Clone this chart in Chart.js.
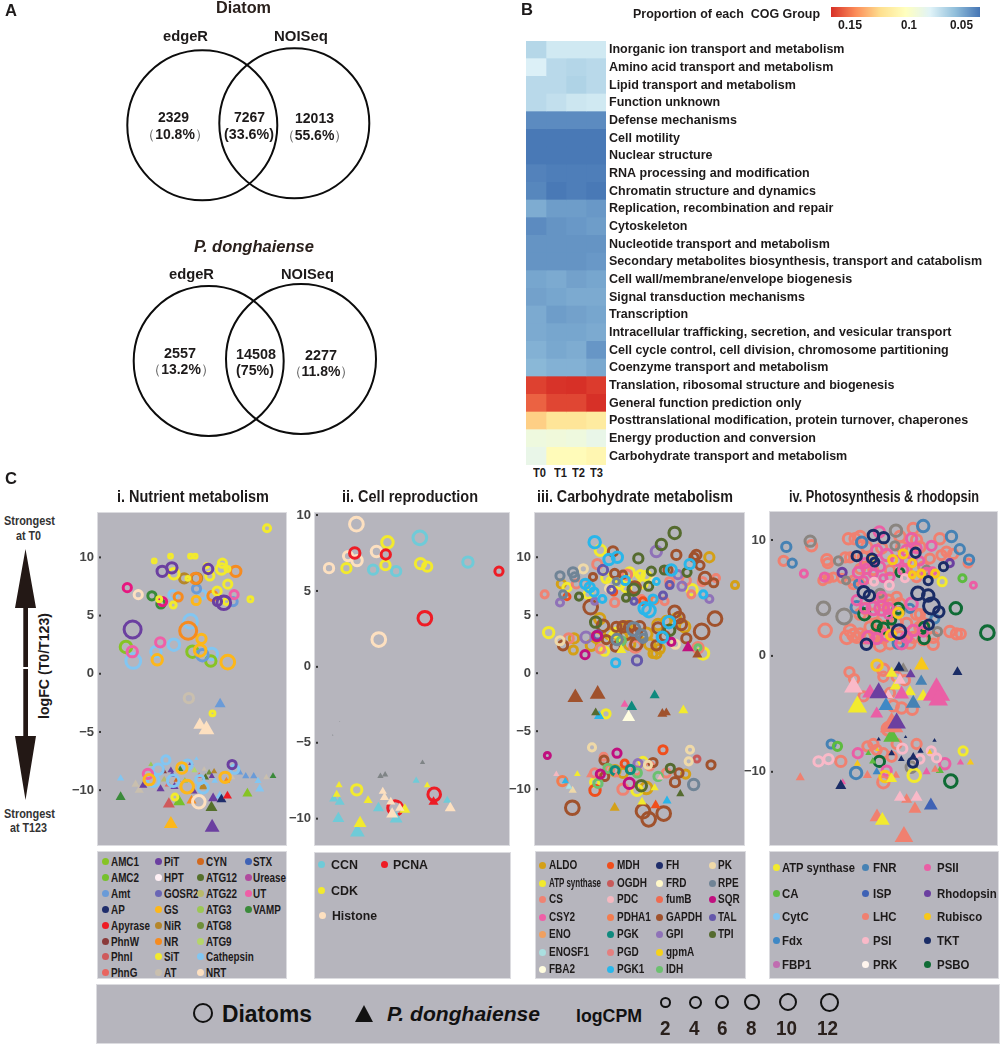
<!DOCTYPE html>
<html><head><meta charset="utf-8">
<script src="https://cdn.jsdelivr.net/npm/chart.js@4/dist/chart.umd.min.js"></script>
<style>
html,body{margin:0;padding:0;background:#fff;width:1000px;height:1045px;overflow:hidden}
body{position:relative;font-family:"Liberation Sans",Arial,sans-serif}
canvas{position:absolute;display:block}
.t{position:absolute;white-space:pre;font-weight:bold;line-height:1;transform-origin:0 50%;color:#1d1a1a}
.t span{font-weight:normal;color:#666}
.box{position:absolute;background:#b6b5bd;border:1px solid #dcdce0;box-sizing:border-box}
.dot{position:absolute;width:7px;height:7px;border-radius:50%}
</style></head><body>
<script>
// ---------- B: heat map values (proportion of each COG group) ----------
const cogGroups=["Inorganic ion transport and metabolism","Amino acid transport and metabolism","Lipid transport and metabolism","Function unknown","Defense mechanisms","Cell motility","Nuclear structure","RNA processing and modification","Chromatin structure and dynamics","Replication, recombination and repair","Cytoskeleton","Nucleotide transport and metabolism","Secondary metabolites biosynthesis, transport and catabolism","Cell wall/membrane/envelope biogenesis","Signal transduction mechanisms","Transcription","Intracellular trafficking, secretion, and vesicular transport","Cell cycle control, cell division, chromosome partitioning","Coenzyme transport and metabolism","Translation, ribosomal structure and biogenesis","General function prediction only","Posttranslational modification, protein turnover, chaperones","Energy production and conversion","Carbohydrate transport and metabolism"];
const timePoints=["T0","T1","T2","T3"];
const T0=[.0653,.0762,.0663,.0663,.0397,.0343,.0343,.0370,.0383,.0496,.0397,.0423,.0423,.0476,.0463,.0490,.0490,.0510,.0530,.1620,.1540,.1261,.0875,.0835];
const T1=[.0729,.0663,.0663,.0689,.0397,.0343,.0343,.0357,.0343,.0450,.0423,.0423,.0423,.0490,.0476,.0450,.0476,.0483,.0510,.1653,.1607,.1181,.0889,.1022];
const T2=[.0729,.0649,.0636,.0716,.0397,.0343,.0343,.0357,.0357,.0450,.0436,.0423,.0423,.0463,.0490,.0463,.0476,.0496,.0510,.1660,.1607,.1181,.0875,.1022];
const T3=[.0729,.0663,.0663,.0729,.0397,.0343,.0343,.0357,.0343,.0436,.0450,.0423,.0436,.0476,.0490,.0476,.0490,.0430,.0483,.1633,.1660,.1141,.0835,.1062];

// ---------- A: Venn counts ----------
const diatomCounts=["2329","7267","12013"], diatomShares=["10.8%","33.6%","55.6%"];
const dinoCounts=["2557","14508","2277"], dinoShares=["13.2%","75%","11.8%"];

// ---------- C: points are [jitter position, logFC, logCPM] ----------
// panel i: nutrient metabolism, circles = diatoms, _t = P. donghaiense triangles
const i_SiT=[[802,12.5,1],[463,9.7,-2],[512,10.1,-2],[572,10.1,-2],[586,10.1,-2],[668,9.5,2],[665,9.0,4],[522,8.6,4],[630,8.4,2],[683,9.0,-1],[684,7.7,2],[652,7.1,2],[620,9.3,-2],[564,8.2,-2],[478,6.4,-1],[520,5.9,0],[752,6.4,-1],[680,6.2,0],[638,-3.4,-1],[525,-10.6,0]];
const i_PiT=[[487,8.8,4],[516,9.1,4],[625,9.0,3],[653,6.2,2],[672,6.1,7],[398,3.8,10],[697,-7.8,2]];
const i_NiR=[[553,8.2,3],[590,8.2,4]];
const i_NR=[[587,8.2,4],[708,8.8,4],[535,6.6,2],[638,6.7,3],[565,3.7,10]];
const i_GS=[[589,6.3,2],[605,3.0,3],[601,2.0,5],[472,1.2,4],[684,1.0,7],[546,-8.1,4],[562,-9.7,6],[676,-8.9,4],[448,-9.1,4]];
const i_Amt=[[590,7.3,2],[700,6.2,2],[608,1.6,5]];
const i_AMC1=[[378,2.3,5],[578,1.9,5],[633,1.1,4]];
const i_Cathepsin=[[572,4.5,7],[522,2.5,5],[400,1.1,8],[468,1.9,4],[636,1.7,5],[607,6.8,2],[498,-7.4,2],[475,-8.2,4],[563,-7.8,3],[520,-9.2,5],[460,-9.2,5],[610,-9.8,4],[705,-8.2,2],[600,-9.1,2],[519,6.8,2]];
const i_UT=[[481,2.7,3],[397,1.9,4],[703,6.8,2],[444,-8.6,3]];
const i_SQRpink=[[488,6.2,2],[382,7.4,2]];
const i_VAMP=[[456,6.7,2],[483,6.0,2]];
const i_NRT=[[415,6.8,2],[597,-11.0,6]];
const i_AT=[[567,-2.1,3]];
const i_Amt_t=[[661,-2.6,7],[738,-8.8,3],[762,-8.8,3],[720,-8.5,2.5]];
const i_NRT_t=[[600,-4.4,9],[620,-4.8,12],[462,-8.6,1]];
const i_GS_t=[[513,-12.9,10]];
const i_PiT_t=[[637,-13.2,11],[640,-10.7,6],[430,-9.6,4],[482,-9.9,4],[524,-9.7,4],[513,-8.3,2.5],[517,-8.7,3],[573,-7.7,1],[636,-8.8,2],[582,-10.1,3]];
const i_VAMP_t=[[362,-10.6,6],[820,-8.8,2.5],[541,-8.2,2]];
const i_PhnI_t=[[507,-11.2,8]];
const i_AMC2_t=[[538,-11.0,8]];
const i_ATG12_t=[[635,-11.5,8],[617,-8.9,3]];
const i_AMC1_t=[[743,-10.3,6]];
const i_Apyrase_t=[[683,-10.5,5]];
const i_AP_t=[[665,-10.8,6]];
const i_Cathepsin_t=[[660,-10.5,5],[780,-9.9,5],[775,-9.2,3],[362,-9.0,3],[590,-7.3,0],[645,-9.2,2.5]];
const i_NR_t=[[575,-10.9,6],[680,-9.2,3]];
const i_AT_t=[[800,-8.9,2],[407,-9.5,4],[418,-10.0,5],[613,-8.2,1],[697,-8.9,2]];
const i_PhnW_t=[[492,-8.4,2]];
const i_ATG3_t=[[453,-7.8,1],[555,-9.2,2.5]];
const i_ATG9_t=[[584,-8.3,2]];
const i_NiR_t=[[643,-8.4,2],[610,-9.7,5]];
const i_ATG8_t=[[628,-8.5,2]];
const i_PhnG_t=[[598,-8.8,2.5],[505,-9.5,3]];
const i_CYN_t=[[532,-9.1,3]];
const i_ATG22_t=[[493,-9.1,2.5]];

// panel ii: cell reproduction
const ii_Histone=[[200,9.4,7],[175,7.3,3],[202,7.0,4],[260,7.6,4],[118,6.5,3],[267,1.8,7]];
const ii_CDK=[[293,8.2,5],[170,6.5,3],[287,6.7,3],[392,6.8,4],[412,6.6,3],[201,-8.1,4]];
const ii_CCN=[[390,8.5,7],[250,6.4,3],[319,6.3,3],[534,6.9,4]];
const ii_PCNA=[[195,7.5,4],[288,7.4,3],[627,6.3,2],[405,3.2,7],[433,-8.4,6],[316,-9.3,8]];
const ii_CDK_t=[[148,-7.8,3],[141,-8.4,4],[235,-8.8,5],[211,-10.3,9],[345,-9.4,7],[412,-7.8,2.5]];
const ii_CCN_t=[[132,-8.7,5],[150,-8.9,6],[146,-10.0,8],[203,-10.9,11],[266,-9.3,7],[319,-10.0,9],[379,-7.5,3],[472,-8.8,4]];
const ii_Histone_t=[[279,-8.2,4],[284,-8.6,5],[303,-8.9,5],[307,-9.7,8],[330,-9.3,5],[481,-9.3,7]];
const ii_PCNA_t=[[431,-8.9,6],[38,-4.9,-3]];
const ii_Other_t=[[398,-6.3,1],[286,-7.1,2],[272,-7.2,2],[129,-4.5,-3],[150,-3.6,-4]];

// panel iii: carbohydrate metabolism
const iii_TPI=[[495,12.1,5],[455,11.1,4],[386,9.9,3],[425,8.8,2],[464,8.9,2],[532,8.7,2],[417,7.5,2],[372,7.2,5],[349,6.5,1],[208,6.6,1],[258,4.4,4],[480,3.7,4],[395,-9.7,4],[482,-8.2,2]];
const iii_PGK1=[[255,11.3,5],[298,9.8,4],[323,10.0,4],[540,9.4,3],[485,8.9,4],[227,7.7,3],[240,7.4,3],[253,7.0,2],[347,8.0,2],[278,6.4,1],[430,6.4,2],[405,5.6,5],[418,5.4,6],[478,4.4,5],[458,3.1,4],[318,0.9,2],[581,6.8,1],[440,7.9,0]];
const iii_ALDO=[[599,10.0,3],[676,7.6,1],[155,7.7,2],[193,3.0,3],[191,2.0,2],[430,1.7,2],[450,2.1,3],[525,4.0,4],[270,4.7,4],[500,4.8,2],[245,2.4,4],[335,3.1,5],[410,3.4,5],[316,-8.4,4],[528,-8.7,2],[410,-9.9,5],[445,4.2,4],[260,3.1,4],[300,3.4,4],[360,2.5,4],[420,2.5,4],[470,4.5,3],[440,1.7,3],[350,4.0,4],[340,-8.6,3]];
const iii_GAPDH=[[310,10.5,3],[500,10.2,3],[560,10.2,3],[553,10.0,2],[571,9.3,2],[586,8.2,5],[612,7.8,2],[243,5.7,7],[315,8.6,2],[340,8.5,1],[475,8.9,2],[250,8.3,1],[495,5.3,5],[508,4.8,4],[515,4.2,4],[616,4.7,7],[576,3.6,8],[530,3.0,3],[340,4.0,4],[280,4.1,5],[350,3.4,5],[380,2.5,5],[440,2.4,3],[445,3.9,4],[465,3.2,3],[318,2.3,3],[375,7.4,5],[290,2.9,2],[160,2.4,3],[188,-11.6,7],[400,-11.9,7],[417,-12.6,7],[462,-12.1,7],[283,-7.5,2],[430,-7.7,2],[604,-7.9,2],[496,-9.4,3],[285,-8.9,2],[508,-8.6,2],[390,4.0,4],[360,4.0,4],[320,4.0,3],[380,3.4,4]];
const iii_GPI=[[440,10.5,4],[517,7.5,2],[151,6.1,1],[599,6.4,1],[229,3.1,4],[505,8.5,2],[255,6.2,0],[385,-7.8,2]];
const iii_TAL=[[280,8.9,3],[305,7.2,1],[373,6.2,0],[460,6.7,1],[480,7.6,1],[264,3.3,2],[382,1.1,3]];
const iii_RPE=[[151,8.4,2],[190,8.7,3],[195,8.3,2],[160,6.8,1],[320,7.9,0],[372,3.8,6],[395,3.3,4],[400,3.0,2],[322,2.9,4],[552,-9.6,4]];
const iii_ATP=[[272,10.6,4],[117,3.5,4],[285,1.9,2],[580,1.7,5],[547,7.2,4],[172,7.4,2],[235,6.8,2],[289,-3.5,2],[400,-7.6,2],[382,-10.1,4],[255,-9.4,2],[315,3.1,5],[305,7.9,3],[392,8.5,2],[400,7.7,2],[375,8.2,3],[320,3.5,3],[290,8.2,3],[330,7.7,3],[360,8.7,3],[410,8.4,3],[350,7.4,3]];
const iii_CS=[[263,9.4,3],[177,3.0,3],[377,2.3,5],[272,2.1,2],[200,7.7,2],[105,6.8,1],[619,8.2,1],[545,6.8,1],[315,6.1,2],[255,-8.6,2],[340,-10.0,4],[565,2.2,4],[282,-7.2,1],[395,6.4,1],[465,6.2,1],[352,8.5,3],[578,7.9,2],[530,8.0,2],[225,7.7,2],[480,7.9,2],[300,-8.3,2],[380,-8.4,2],[420,-8.0,2],[470,-8.6,2]];
const iii_MDH=[[172,6.6,0],[460,-6.6,2],[345,-7.8,1],[312,7.0,0],[400,6.2,1],[256,-10.1,4]];
const iii_SQR=[[113,-7.1,0],[226,1.6,2],[262,3.2,3],[485,2.7,1],[322,-6.9,2],[272,-8.7,2],[359,-9.5,4]];
const iii_PK=[[221,9.0,2],[151,2.8,2],[247,-6.4,1],[541,-6.6,1],[537,-7.6,1],[497,2.5,2],[435,7.9,1],[415,-7.9,1],[298,7.3,1]];
const iii_PGK=[[316,-8.4,2],[362,-8.3,2]];
const iii_IDH=[[335,2.8,2],[565,2.2,0],[383,-8.6,2],[445,-8.9,2],[295,-8.2,2],[265,-9.5,2]];
const iii_OGDH=[[562,-7.4,0]];
const iii_PDHA1=[[158,-9.3,3],[435,6.3,1]];
const iii_GAPDH_t=[[197,-2.1,12],[264,-1.8,12],[458,-3.5,6],[470,-3.4,5],[563,1.6,6]];
const iii_PGK_t=[[435,-1.9,6],[366,-2.9,7]];
const iii_TPI_t=[[258,-3.4,5],[512,-10.4,4]];
const iii_PGK1_t=[[268,-3.7,6],[472,-11.0,5],[167,-9.3,3]];
const iii_CSY2_t=[[345,-2.7,4]];
const iii_ATP_t=[[521,-3.2,6],[203,-8.7,2.5],[435,-9.9,4],[397,-11.1,5],[335,2.0,6]];
const iii_FBA2_t=[[357,-3.8,9]];
const iii_SQR_t=[[535,2.2,8]];
const iii_ALDO_t=[[315,-11.6,6]];
const iii_MDH_t=[[438,-11.4,6]];
const iii_CS_t=[[240,-8.8,3],[320,-8.8,2.5]];
const iii_PDC_t=[[140,-8.7,2],[452,-9.0,2.5]];
const iii_ENOSF1_t=[[178,-9.8,2.5]];
const iii_PK_t=[[189,-10.1,4]];

// panel iv: photosynthesis & rhodopsin
const iv_TKT=[[370,10.4,4],[401,10.2,4],[320,8.6,3],[366,8.4,3],[374,8.1,2],[497,8.9,3],[581,7.7,2],[535,6.5,2],[341,5.5,5],[358,5.2,4],[504,5.4,6],[535,5.2,5],[545,4.3,9],[567,3.8,4],[537,2.7,3],[447,2.1,7],[349,1.0,4],[489,-9.2,3]];
const iv_PSBO=[[618,4.1,5],[713,2.0,7],[603,-10.8,6],[343,3.6,5],[380,2.6,3],[445,4.1,4],[400,2.4,4],[523,1.5,4],[425,3.1,2],[388,-9.1,4],[450,7.2,2],[523,2.5,3]];
const iv_Other=[[438,10.8,5],[180,9.9,4],[265,8.2,2],[288,6.5,1],[220,4.1,6],[282,3.4,8],[435,9.5,2],[530,7.4,2],[563,2.1,2],[484,-9.6,4],[390,5.4,2],[450,3.8,2]];
const iv_FNR=[[108,9.4,3],[126,8.0,2],[605,10.3,4],[520,11.2,5],[630,9.2,3],[658,8.3,3],[335,9.8,4],[243,-7.6,2],[318,-10.1,5],[325,6.2,2],[320,4.2,5],[555,3.2,2],[445,1.1,4],[480,4.1,2]];
const iv_PSII=[[161,7.1,1],[671,6.1,0],[223,6.8,2],[388,10.7,4],[485,10.1,4],[545,9.5,3],[380,9.1,4],[410,8.7,5],[325,7.2,4],[350,7.5,3],[370,7.1,2],[400,6.7,1],[340,6.5,2],[440,8.2,3],[470,9.1,4],[530,7.2,2],[548,7.3,1],[320,4.8,3],[370,4.1,6],[395,4.1,7],[415,4.1,4],[485,4.5,5],[355,1.6,5],[455,1.1,5],[490,2.2,4],[323,-8.4,3],[585,-9.3,4],[410,-9.9,3],[415,3.6,2],[510,8.2,2],[470,8.2,2],[345,8.0,3],[390,7.7,3],[420,6.8,2],[500,9.3,3],[460,7.4,3],[395,5.1,3],[345,4.1,3],[410,1.8,4],[470,1.6,4],[380,1.5,4],[520,2.1,3]];
const iv_PSI=[[205,-9.1,3],[235,-8.9,3],[457,-8.0,3],[510,-8.9,2],[544,-8.2,2],[560,-8.8,2],[372,6.4,1],[418,6.1,2],[465,6.7,1]];
const iv_Rubisco=[[381,-0.8,4],[445,3.7,3],[423,1.8,3],[428,8.3,2],[460,8.8,2],[365,8.4,2],[487,8.0,1],[487,7.0,0],[514,7.1,1],[556,7.1,1],[405,-10.4,4]];
const iv_ATP=[[577,6.4,2],[640,-8.2,2],[493,-10.3,6]];
const iv_CA=[[638,6.7,1],[262,-7.8,2]];
const iv_Rhodopsin=[[276,7.2,2],[600,8.0,1]];
const iv_LHC=[[100,8.2,3],[184,9.5,4],[295,10.1,4],[330,10.3,4],[315,10.1,4],[490,11.0,4],[570,10.1,4],[230,8.3,4],[233,8.0,3],[300,8.5,3],[218,6.5,2],[250,6.8,2],[275,6.7,2],[575,8.7,3],[610,8.8,3],[655,8.0,2],[225,2.2,6],[290,1.6,6],[300,2.2,5],[310,1.8,5],[345,1.6,5],[600,2.1,4],[620,1.9,4],[633,1.9,3],[550,1.0,4],[390,0.9,5],[330,3.6,4],[400,4.4,4],[420,4.4,4],[490,1.6,4],[440,2.8,5],[380,2.8,4],[370,7.4,3],[420,7.4,3],[520,7.7,3],[298,-1.4,3],[312,-2.0,3],[340,-3.5,3],[400,-1.2,5],[465,-2.1,3],[430,-4.3,4],[455,-4.5,4],[487,-4.6,4],[420,-3.2,3],[415,-6.3,6],[352,-7.8,3],[380,-8.1,3],[272,-9.1,4],[440,-7.6,3],[425,-8.7,3],[500,-7.6,3],[400,-10.9,5],[340,8.5,4],[395,9.3,4],[450,10.3,4],[510,9.4,4],[540,8.4,3],[345,4.1,4],[410,2.5,5],[470,2.8,4],[510,2.5,4],[375,1.9,4],[420,1.1,5],[520,2.8,4],[440,5.1,3],[370,-7.6,3],[400,-8.4,3],[235,6.7,2],[285,8.5,3],[350,9.4,4],[455,9.4,4],[500,10.0,4],[590,9.0,3],[330,7.5,3],[470,7.5,3],[500,6.8,3],[350,6.7,3],[310,6.5,3],[310,6.2,3],[370,3.6,4],[390,4.8,4],[415,4.8,4],[450,4.5,4],[500,3.6,4],[510,3.6,3],[360,2.5,4],[400,1.6,5],[450,1.6,5],[520,1.4,4],[550,1.6,4],[480,1.1,4],[330,1.9,4],[320,1.6,4],[390,2.2,4],[440,-1.8,3],[400,-1.8,3]];
const iv_Rubisco_t=[[515,-0.8,11],[322,-9.3,3],[662,-9.2,3],[540,-8.3,1],[382,-8.1,0]];
const iv_TKT_t=[[623,-1.4,6],[447,-1.0,7],[272,-11.2,7],[425,-8.4,2.5],[454,-8.9,2.5],[490,-8.6,2],[512,-8.2,2],[386,-7.2,0],[467,-7.0,-1],[554,-7.3,0]];
const iv_Other_t=[[460,-1.1,7]];
const iv_ATP_t=[[425,-1.5,8],[437,-2.6,8],[480,-3.1,8],[520,-3.5,9],[322,-4.4,16],[397,-14.2,11],[425,-10.6,7]];
const iv_PSI_t=[[310,-2.7,15],[450,-2.1,8],[450,-12.2,8],[500,-12.2,8],[415,-3.4,6]];
const iv_PSII_t=[[560,-3.2,24],[565,-3.8,16],[455,-3.3,11],[380,-5.0,9],[360,-3.2,12],[278,-10.9,2.5],[530,-10.0,4],[632,-9.2,3]];
const iv_Rhodopsin_t=[[386,-3.2,15],[440,-5.8,15],[482,-1.6,6]];
const iv_FNR_t=[[514,-2.2,8],[490,-4.1,11]];
const iv_Fdx_t=[[408,-4.3,11],[380,-10.0,4]];
const iv_ISP_t=[[543,-12.9,10]];
const iv_LHC_t=[[462,-15.6,15],[381,-13.9,11],[495,-13.2,9],[470,-12.4,7],[150,-10.5,5],[352,-10.3,5],[438,-10.3,4],[556,-9.8,4],[425,-6.0,20]];
const iv_CA_t=[[425,-7.0,13],[368,-9.1,3],[570,-9.9,4],[355,-8.4,2]];

// ---------- legends ----------
const legendI=[["AMC1","AMC2","Amt","AP","Apyrase","PhnW","PhnI","PhnG"],["PiT","HPT","GOSR2","GS","NiR","NR","SiT","AT"],["CYN","ATG12","ATG22","ATG3","ATG8","ATG9","Cathepsin","NRT"],["STX","Urease","UT","VAMP"]];
const legendIII=[["ALDO","ATP synthase","CS","CSY2","ENO","ENOSF1","FBA2"],["MDH","OGDH","PDC","PDHA1","PGK","PGD","PGK1"],["FH","FRD","fumB","GAPDH","GPI","gpmA","IDH"],["PK","RPE","SQR","TAL","TPI"]];
const legendIV=[["ATP synthase","CA","CytC","Fdx","FBP1"],["FNR","ISP","LHC","PSI","PRK"],["PSII","Rhodopsin","Rubisco","TKT","PSBO"]];
const sizeKey=[2,4,6,8,10,12];

// ---------- styles ----------
const colI={AMC1:"#86c424",AMC2:"#76c12c",Amt:"#6a9bd8",AP:"#1f2d6b",Apyrase:"#ee1c25",PhnW:"#8a3a3a",PhnI:"#cf5a5c",PhnG:"#e9655f",PiT:"#6b3fa0",HPT:"#fff0f5",GOSR2:"#6a66b5",GS:"#fdb71a",NiR:"#b5862a",NR:"#f68b1f",SiT:"#f2ea2e",AT:"#c9bfae",CYN:"#d2691e",ATG12:"#55702b",ATG22:"#b9b96b",ATG3:"#9cc755",ATG8:"#6e8f3a",ATG9:"#b5d56a",Cathepsin:"#82c6f2",NRT:"#fde0c0",STX:"#3f62b5",Urease:"#b04a9e",UT:"#ef5fa7",VAMP:"#3a8a3a",Pink:"#e6177f"};
const colII={CCN:"#6fcbd8",CDK:"#f2ea2e",Histone:"#fde0c0",PCNA:"#ee1c25",Other:"#7f8486"};
const colIII={ALDO:"#d4a017","ATP synthase":"#f2ea2e",CS:"#ef8373",CSY2:"#ef5fa7",ENO:"#f0a060",ENOSF1:"#aadfe0",FBA2:"#fffde0",MDH:"#f04e1c",OGDH:"#c85a5a",PDC:"#f4b8c0",PDHA1:"#f47c4e",PGK:"#0f8a7e",PGD:"#e57f7f",PGK1:"#29b6ea",FH:"#1f2d6b",FRD:"#fff8c8",fumB:"#ef6a50",GAPDH:"#a0522d",GPI:"#8f72b8",gpmA:"#f6d21a",IDH:"#6cc070",PK:"#efd9a8",RPE:"#708496",SQR:"#c0107f",TAL:"#6558ab",TPI:"#556b2f"};
const colIV={"ATP synthase":"#f2ea2e",CA:"#5dbb3f",CytC:"#82c6f2",Fdx:"#3f88c5",FBP1:"#c06cb0",FNR:"#4682b4",ISP:"#3f62b5",LHC:"#f08070",PSI:"#f9b9c8",PRK:"#fff5ee",PSII:"#ea5fa5",Rhodopsin:"#6b3fa0",Rubisco:"#f8c81a",TKT:"#1a2c66",PSBO:"#0f6b35",Other:"#8a8580"};

const panelI=[[i_NRT,colI.NRT],[i_PiT,colI.PiT],[i_SiT,colI.SiT],[i_NR,colI.NR],[i_NiR,colI.NiR],[i_GS,colI.GS],[i_UT,colI.UT],[i_SQRpink,colI.Pink],[i_Amt,colI.Amt],[i_AMC1,colI.AMC1],[i_Cathepsin,colI.Cathepsin],[i_VAMP,colI.VAMP],[i_AT,colI.AT],
 [i_GS_t,colI.GS,1],[i_PiT_t,colI.PiT,1],[i_Apyrase_t,colI.Apyrase,1],[i_AP_t,colI.AP,1],[i_Cathepsin_t,colI.Cathepsin,1],[i_AMC2_t,colI.AMC2,1],[i_PhnI_t,colI.PhnI,1],[i_ATG12_t,colI.ATG12,1],[i_AMC1_t,colI.AMC1,1],[i_VAMP_t,colI.VAMP,1],[i_NR_t,colI.NR,1],[i_AT_t,colI.AT,1],[i_PhnW_t,colI.PhnW,1],[i_ATG3_t,colI.ATG3,1],[i_ATG9_t,colI.ATG9,1],[i_NiR_t,colI.NiR,1],[i_ATG8_t,colI.ATG8,1],[i_PhnG_t,colI.PhnG,1],[i_CYN_t,colI.CYN,1],[i_ATG22_t,colI.ATG22,1],[i_NRT_t,colI.NRT,1],[i_Amt_t,colI.Amt,1]];
const panelII=[[ii_Histone_t,colII.Histone,1],[ii_CDK_t,colII.CDK,1],[ii_PCNA_t,colII.PCNA,1],[ii_CCN_t,colII.CCN,1],[ii_Other_t,colII.Other,1],[ii_PCNA,colII.PCNA],[ii_CDK,colII.CDK],[ii_Histone,colII.Histone],[ii_CCN,colII.CCN]];
const panelIII=[[iii_SQR_t,colIII.SQR,1],[iii_GAPDH_t,colIII.GAPDH,1],[iii_PGK_t,colIII.PGK,1],[iii_TPI_t,colIII.TPI,1],[iii_PGK1_t,colIII.PGK1,1],[iii_CSY2_t,colIII.CSY2,1],[iii_ATP_t,colIII["ATP synthase"],1],[iii_FBA2_t,colIII.FBA2,1],[iii_ALDO_t,colIII.ALDO,1],[iii_MDH_t,colIII.MDH,1],[iii_CS_t,colIII.CS,1],[iii_PDC_t,colIII.PDC,1],[iii_ENOSF1_t,colIII.ENOSF1,1],[iii_PK_t,colIII.PK,1],
 [iii_RPE,colIII.RPE],[iii_PGK1,colIII.PGK1],[iii_TPI,colIII.TPI],[iii_SQR,colIII.SQR],[iii_TAL,colIII.TAL],[iii_PGK,colIII.PGK],[iii_IDH,colIII.IDH],[iii_PK,colIII.PK],[iii_GPI,colIII.GPI],[iii_MDH,colIII.MDH],[iii_GAPDH,colIII.GAPDH],[iii_CS,colIII.CS],[iii_OGDH,colIII.OGDH],[iii_PDHA1,colIII.PDHA1],[iii_ATP,colIII["ATP synthase"]],[iii_ALDO,colIII.ALDO]];
const panelIV=[[iv_TKT_t,colIV.TKT,1],[iv_Other_t,colIV.Other,1],[iv_Rubisco_t,colIV.Rubisco,1],[iv_FNR_t,colIV.FNR,1],[iv_Fdx_t,colIV.Fdx,1],[iv_Rhodopsin_t,colIV.Rhodopsin,1],[iv_ISP_t,colIV.ISP,1],[iv_PSI_t,colIV.PSI,1],[iv_PSII_t,colIV.PSII,1],[iv_ATP_t,colIV["ATP synthase"],1],[iv_LHC_t,colIV.LHC,1],[iv_CA_t,colIV.CA,1],
 [iv_TKT,colIV.TKT],[iv_Rubisco,colIV.Rubisco],[iv_ATP,colIV["ATP synthase"]],[iv_PSI,colIV.PSI],[iv_PSII,colIV.PSII],[iv_PSBO,colIV.PSBO],[iv_Other,colIV.Other],[iv_CA,colIV.CA],[iv_Rhodopsin,colIV.Rhodopsin],[iv_FNR,colIV.FNR],[iv_LHC,colIV.LHC]];

// ---------- helpers ----------
function tx(str,x,cy,size,w,o={}){
  const d=document.createElement('div');d.className='t';d.textContent=str;
  d.style.left=x+'px';d.style.fontSize=size+'px';d.style.top=(cy-size/2)+'px';
  if(o.italic)d.style.fontStyle='italic';
  if(o.color)d.style.color=o.color;
  document.body.appendChild(d);
  if(w){const m=d.getBoundingClientRect().width;d.style.transform='scaleX('+(w/m)+')';}
  return d;
}
// share label with full-width brackets, centred on cx
function share(str,cx,cy){const d=tx('',0,cy,14,null);
  d.innerHTML='<span>（</span>'+str+'<span>）</span>';
  d.style.left=(cx-d.getBoundingClientRect().width/2)+'px';return d;}
function box(x,y,w,h){const d=document.createElement('div');d.className='box';d.style.cssText+=`left:${x}px;top:${y}px;width:${w}px;height:${h}px`;document.body.appendChild(d);}
function dot(x,y,c){const d=document.createElement('div');d.className='dot';d.style.cssText+=`left:${x-3.5}px;top:${y-3.5}px;background:${c}`;document.body.appendChild(d);}
function mkCanvas(x,y,w,h){const c=document.createElement('canvas');c.width=w;c.height=h;c.style.left=x+'px';c.style.top=y+'px';c.style.width=w+'px';c.style.height=h+'px';document.body.appendChild(c);return c;}
const rad=s=>Math.max(0.6,2.5+0.55*s);
Chart.defaults.animation=false;
Chart.defaults.layout.autoPadding=false;

// ---------- A: Venn drawn as scatter circles ----------
const vennCircles=[[202.3,125.3],[294.3,123.3],[208.7,361],[301,359]];
new Chart(mkCanvas(0,0,520,470),{type:'scatter',data:{datasets:[{data:vennCircles.map(p=>({x:p[0],y:p[1]})),pointRadius:75,pointBackgroundColor:'transparent',pointBorderColor:'#0c0c0c',pointBorderWidth:2}]},
 options:{responsive:false,devicePixelRatio:1,events:[],layout:{autoPadding:false},plugins:{legend:{display:false},tooltip:{enabled:false}},scales:{x:{display:false,min:0,max:520},y:{display:false,reverse:true,min:0,max:470}}}});
const ink='#2a201c';
tx("A",5,10,17,12);tx("Diatom",216,8,16,55,{color:ink});
tx("edgeR",163,36,15.5,45);tx("NOISeq",274,36,15.5,54);
tx(diatomCounts[0],158,117,14,31);share(diatomShares[0],175,134);
tx(diatomCounts[1],234,117,14,31);tx("("+diatomShares[1]+")",224,134,14,50);
tx(diatomCounts[2],295,118,14,39);share(diatomShares[2],314.5,135);
tx("P. donghaiense",194,247,16,120,{italic:1,color:ink});
tx("edgeR",169,274,15.5,45);tx("NOISeq",281,274,15.5,53);
tx(dinoCounts[0],164,353,14,32);share(dinoShares[0],181,369);
tx(dinoCounts[1],236,354,14,40);tx("("+dinoShares[1]+")",236,370,14,38);
tx(dinoCounts[2],305,355,14,32);share(dinoShares[2],321,371);

// ---------- B: heat map ----------
const stops=[[215,48,39],[252,141,89],[254,224,144],[255,255,191],[224,243,248],[145,191,219],[69,117,180]];
function heat(v){const t=Math.min(1,Math.max(0,(0.166-v)/0.133))*6,i=Math.min(5,Math.floor(t)),f=t-i;
 const c=stops[i].map((a,k)=>Math.round(a+(stops[i+1][k]-a)*f));return `rgb(${c})`;}
const HW=394;
new Chart(mkCanvas(526,41,80+HW,424),{type:'bar',data:{labels:cogGroups,datasets:[T0,T1,T2,T3].map(a=>({data:a.map(()=>1),backgroundColor:a.map(heat),borderWidth:0,barPercentage:1,categoryPercentage:1,stack:'s'}))},
 options:{indexAxis:'y',responsive:false,devicePixelRatio:1,events:[],plugins:{legend:{display:false},tooltip:{enabled:false}},
 scales:{x:{display:false,stacked:true,min:0,max:4},y:{stacked:true,position:'right',grid:{display:false,drawTicks:false},border:{display:false},
  afterFit(s){s.width=HW;s.paddingTop=0;s.paddingBottom=0;},
  ticks:{autoSkip:false,padding:3,color:'#1d1a1a',font:{family:'"Liberation Sans"',weight:'bold',size:12.5}}}}}});
timePoints.forEach((t,i)=>tx(t,[533,554,572,590][i],473,12.5,13));
tx("B",521,9,17,12);tx("Proportion of each  COG Group",633,14,13.5,187);
const bar=document.createElement('div');bar.style.cssText='position:absolute;left:831px;top:7px;width:149px;height:10px;background:linear-gradient(90deg,'+stops.map(c=>`rgb(${c})`).join(',')+')';document.body.appendChild(bar);
tx("0.15",838,25,13.5,24);tx("0.1",901,25,13.5,16);tx("0.05",950,25,13.5,23);

// ---------- C: bubble panels ----------
const trianglePlugin={id:'panelBg',
 beforeDraw(c){const a=c.chartArea,g=c.ctx;g.save();g.fillStyle='#b6b5bd';g.fillRect(a.left,a.top,a.right-a.left,a.bottom-a.top);g.strokeStyle='#dcdce0';g.strokeRect(a.left+.5,a.top+.5,a.right-a.left-1,a.bottom-a.top-1);g.restore();},
 afterDraw(c){const s=c.scales.y,g=c.ctx;g.save();g.fillStyle='#333';s.ticks.forEach(t=>{g.fillRect(c.chartArea.left+2,s.getPixelForValue(t.value)-1,2,2);});g.restore();}};
function panel(left,top,w,h,xmin,xmax,ymin,ymax,step,table){
 const pad=34,head=8;
 const ds=table.map(([arr,col,tri])=>({data:arr.map(p=>({x:p[0],y:p[1],s:p[2]})),pointStyle:tri?'triangle':'circle',
  pointRadius:c=>rad(c.raw.s)+(tri?0:0.5),pointBackgroundColor:tri?col:'transparent',pointBorderColor:col,pointBorderWidth:tri?0:3,showLine:false,clip:false}));
 new Chart(mkCanvas(left-pad,top-head,w+pad,h+head),{type:'scatter',data:{datasets:ds},plugins:[trianglePlugin],
 options:{responsive:false,devicePixelRatio:1,events:[],layout:{autoPadding:false,padding:{top:head}},plugins:{legend:{display:false},tooltip:{enabled:false}},
  scales:{x:{display:false,min:xmin,max:xmax},y:{min:ymin,max:ymax,grid:{display:false,drawTicks:false},border:{display:false},
   afterFit(s){s.width=pad;s.paddingTop=0;s.paddingBottom=0;},
   ticks:{includeBounds:false,stepSize:step,padding:3,color:'#444',font:{family:'"Liberation Sans"',weight:'bold',size:13},callback:v=>String(v).replace('-','−')}}}}});
}
panel(97,512,190,334,291,862,-14.8,13.9,5,panelI);
panel(314,512,196,334,73,660,-11.8,10.2,5,panelII);
panel(534,512,211,334,73,706,-14.9,13.9,5,panelIII);
panel(769,511,229,335,56,745,-16.4,12.5,10,panelIV);

tx("C",5,478,17,12);
tx("i. Nutrient metabolism",117,497,16,152);
tx("ii. Cell reproduction",342,497,16,136);
tx("iii. Carbohydrate metabolism",537,497,16,196);
tx("iv. Photosynthesis & rhodopsin",789,497,16,190);
tx("Strongest",4,520,13,51,{color:'#333'});tx("at T0",16,535,13,25,{color:'#333'});
tx("Strongest",4,813,13,51,{color:'#333'});tx("at T123",10,827,13,37,{color:'#333'});
const lf=tx("logFC (T0/T123)",43,666,14,null);
{const m=lf.getBoundingClientRect().width;lf.style.left=(43-m/2)+'px';lf.style.transformOrigin='50% 50%';lf.style.transform=`rotate(-90deg) scaleX(${106/m})`;}
const svgNS='http://www.w3.org/2000/svg';
const sv=document.createElementNS(svgNS,'svg');sv.setAttribute('width','50');sv.setAttribute('height','270');sv.style.cssText='position:absolute;left:0;top:540px';
sv.innerHTML='<polygon fill="#231815" points="25.5,9 36,68 28,68 28,127 23.3,127 23.3,68 15,68"/><polygon fill="#231815" points="23.3,129 28,129 28,196 36,196 25.5,260 15,196 23.3,196"/>';
document.body.appendChild(sv);

// ---------- legends under the panels ----------
box(97,851,190,128);box(314,852,197,127);box(535,851,211,128);box(769,851,230,128);
const rowI=[861,877,893,909,925,941,956,972];
const dxI=[105,158,200,248],txI=[111,164,206,253];
legendI.forEach((col,k)=>col.forEach((n,r)=>{dot(dxI[k],rowI[r],colI[n]);
 const lab=tx(n,txI[k],rowI[r],13,null);lab.style.transform='scaleX(.76)';}));
[[321,864,331,"CCN",27],[321,890,331,"CDK",27],[322,915,332,"Histone",45],[384,864,393,"PCNA",35]].forEach(a=>{dot(a[0],a[1],colII[a[3]]);tx(a[3],a[2],a[1],13,a[4]);});
const rowIII=[865,883,899,917,934,952,969],dxIII=[542,610,659,712],txIII=[549,617,666,718];
legendIII.forEach((col,k)=>col.forEach((n,r)=>{dot(dxIII[k],rowIII[r],colIII[n]);
 const lab=tx(n,txIII[k],rowIII[r],12.5,n==="ATP synthase"?52:null);if(n!=="ATP synthase")lab.style.transform='scaleX(.8)';}));
const rowIV=[867,893,916,940,964],dxIV=[776,865,927],txIV=[782,873,937];
legendIV.forEach((col,k)=>col.forEach((n,r)=>{dot(dxIV[k],rowIV[r],colIV[n]);
 const lab=tx(n,txIV[k],rowIV[r],13,n==="ATP synthase"?73:null);if(n!=="ATP synthase")lab.style.transform='scaleX(.88)';}));

// ---------- bottom key ----------
box(96,984,904,60);
function ring(cx,cy,d,bw){const e=document.createElement('div');e.style.cssText=`position:absolute;box-sizing:border-box;left:${cx-d/2}px;top:${cy-d/2}px;width:${d}px;height:${d}px;border-radius:50%;border:${bw}px solid #111`;document.body.appendChild(e);}
ring(203,1013,20,2);
tx("Diatoms",222,1014,23,90,{color:'#111'});
const tri=document.createElement('div');tri.style.cssText='position:absolute;left:355px;top:1005px;width:0;height:0;border-left:9px solid transparent;border-right:9px solid transparent;border-bottom:17px solid #111';document.body.appendChild(tri);
tx("P. donghaiense",387,1014,20,153,{italic:1,color:'#111'});
tx("logCPM",576,1016,18,66,{color:'#111'});
const keyX=[665,695,722,752,788,829],keyD=[11,13,14,16,18,19],keyLabX=[660,689,717,746,776,817];
sizeKey.forEach((s,i)=>{ring(keyX[i],1002,keyD[i],2.2);tx(String(s),keyLabX[i],1028,20,String(s).length*10.5,{color:ink});});
</script>
</body></html>
